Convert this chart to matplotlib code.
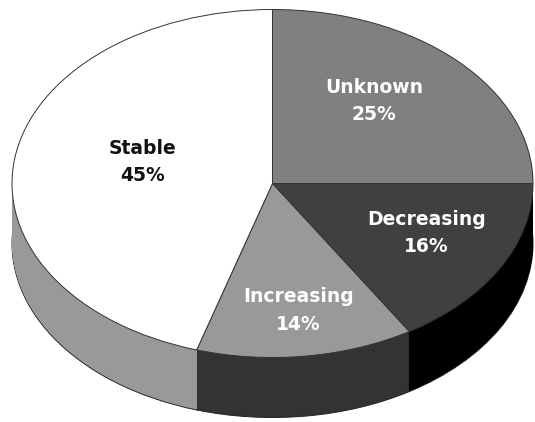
import matplotlib
matplotlib.use('Agg')
import matplotlib.pyplot as plt

labels = ['Unknown', 'Decreasing', 'Increasing', 'Stable']
percents = [25, 16, 14, 45]
# slice sizes as measured on the picture, the printed percents are rounded
values = [25, 16.2, 13.5, 45.3]
top_colors = ['#808080', '#404040', '#999999', '#ffffff']
side_colors = ['#000000', '#000000', '#333333', '#999999']
text_colors = ['white', 'white', 'white', '#111111']
label_pos = [(0.39, 0.475), (0.59, -0.285), (0.10, -0.73), (-0.50, 0.125)]

W, H = 535, 422
fig = plt.figure(figsize=(W / 100, H / 100), dpi=100)
ax = fig.add_axes([0, 0, 1, 1])

# pie centre and radii in pixels, one axes unit is one radius
cx, cy, rx, ry, depth = 272.5, 183.5, 260.5, 174, 60

# side wall: the same pie stacked from the bottom up
for k in range(depth, 0, -1):
    edge = {'edgecolor': '#222222', 'linewidth': 0.7} if k == depth else {'linewidth': 0}
    ax.pie(values, colors=side_colors, startangle=90, counterclock=False,
           center=(0, -k / ry), radius=1, frame=True, wedgeprops=edge)
ax.pie(values, colors=top_colors, startangle=90, counterclock=False,
       center=(0, 0), radius=1, frame=True,
       wedgeprops={'edgecolor': '#333333', 'linewidth': 0.7})

ax.set_aspect('auto')
ax.set_xlim(-cx / rx, (W - cx) / rx)
ax.set_ylim(-(H - cy) / ry, cy / ry)
ax.axis('off')

for name, p, c, (x, y) in zip(labels, percents, text_colors, label_pos):
    ax.text(x, y, f'{name}\n{p}%', color=c, ha='center', va='center',
            fontsize=13.5, fontweight='bold', family='DejaVu Sans', linespacing=1.55)

fig.savefig('out.png', dpi=100)
